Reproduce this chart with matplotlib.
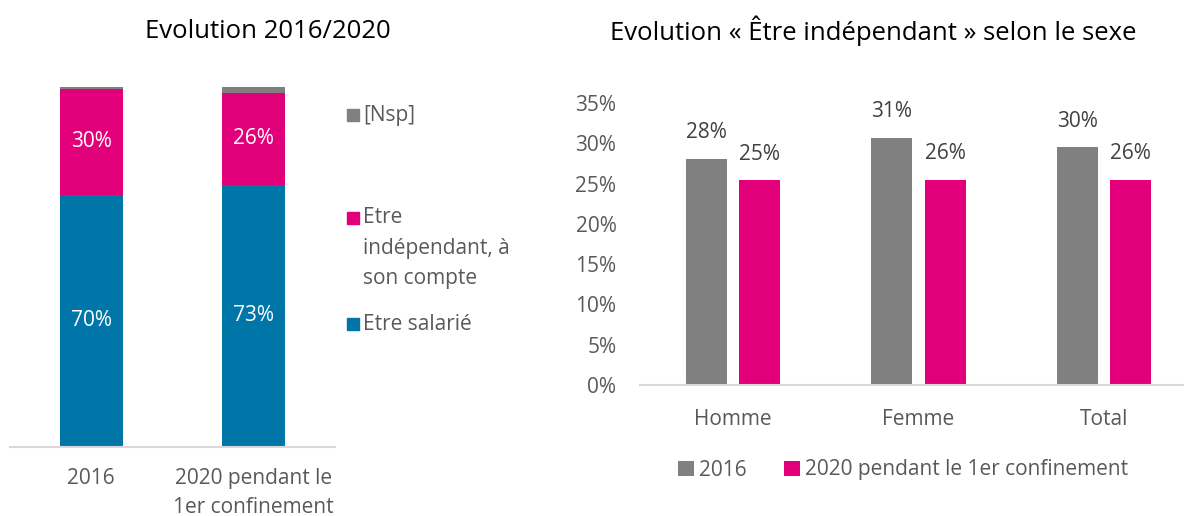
import matplotlib.pyplot as plt
import numpy as np

plt.rcParams['font.family'] = ['Open Sans', 'DejaVu Sans']

# left chart data (stacked, in %)
years = ["2016", "2020 pendant le\n1er confinement"]
salarie = [70.1, 72.9]
independant = [29.3, 25.5]
nsp = [0.6, 1.6]
lab_salarie = ["70%", "73%"]
lab_indep = ["30%", "26%"]

# right chart data (in %)
sexes = ["Homme", "Femme", "Total"]
v2016 = [28.1, 30.7, 29.5]
v2020 = [25.4, 25.5, 25.5]
lab2016 = ["28%", "31%", "30%"]
lab2020 = ["25%", "26%", "26%"]

BLUE = "#0076A8"
PINK = "#E2007A"
GREY = "#808080"
TXT = "#595959"
FS = 15
W, H = 1184, 516

fig = plt.figure(figsize=(W / 100, H / 100), dpi=100)

def px_axes(x0, x1, ytop, ybot):
    return fig.add_axes([x0 / W, (H - ybot) / H, (x1 - x0) / W, (ybot - ytop) / H])

# ---- left: stacked bars
ax1 = px_axes(10, 335, 87, 447)
x = np.arange(len(years))
bw = 0.39
ax1.bar(x, salarie, bw, color=BLUE)
ax1.bar(x, independant, bw, bottom=salarie, color=PINK)
bot = np.array(salarie) + np.array(independant)
ax1.bar(x, nsp, bw, bottom=bot, color=GREY)
for i in range(len(years)):
    ax1.text(x[i], salarie[i] / 2, lab_salarie[i], ha="center", va="center",
             color="white", fontsize=FS)
    ax1.text(x[i], salarie[i] + independant[i] / 2, lab_indep[i], ha="center",
             va="center", color="white", fontsize=FS)
ax1.set_xlim(-0.5, 1.5)
ax1.set_ylim(0, 100)
ax1.set_yticks([])
ax1.set_xticks(x)
ax1.set_xticklabels(years, fontsize=FS, color=TXT, linespacing=1.5, va="top")
ax1.tick_params(axis="x", length=0, pad=15)
for s in ["top", "right", "left"]:
    ax1.spines[s].set_visible(False)
ax1.spines["bottom"].set_color("#D9D9D9")
ax1.spines["bottom"].set_linewidth(1.5)

# legend for left chart, placed by hand (Excel-like spacing)
leg_items = [("[Nsp]", GREY, 115), ("Etre\nindépendant, à\nson compte", PINK, 218),
             ("Etre salarié", BLUE, 324)]
for txt, col, yy in leg_items:
    fig.patches.append(plt.Rectangle((347 / W, (H - yy - 6) / H), 12 / W, 12 / H,
                                     transform=fig.transFigure, color=col))
    if "\n" in txt:
        fig.text(363 / W, (H - yy + 11) / H, txt, fontsize=FS, color=TXT, va="top",
                 linespacing=1.6)
    else:
        fig.text(363 / W, (H - yy) / H, txt, fontsize=FS, color=TXT, va="center")

fig.text(268 / W, (H - 31) / H, "Evolution 2016/2020", ha="center", va="center",
         fontsize=18.5, color="black")

# ---- right: grouped bars
ax2 = px_axes(640, 1184, 103, 385)
x2 = np.arange(len(sexes))
bw2 = 0.221
off = 0.143
b1 = ax2.bar(x2 - off, v2016, bw2, color=GREY, label="2016")
b2 = ax2.bar(x2 + off, v2020, bw2, color=PINK, label="2020 pendant le 1er confinement")
for i in range(len(sexes)):
    ax2.text(x2[i] - off, v2016[i] + 3.2, lab2016[i], ha="center", va="center",
             color="#404040", fontsize=FS)
    ax2.text(x2[i] + off, v2020[i] + 3.2, lab2020[i], ha="center", va="center",
             color="#404040", fontsize=FS)
ax2.set_xlim(-0.5, 2.5 - 13 / 185.5)
ax2.set_ylim(0, 35)
ax2.set_yticks(np.arange(0, 36, 5))
ax2.set_yticklabels([f"{v}%" for v in range(0, 36, 5)], fontsize=FS, color=TXT)
ax2.set_xticks(x2)
ax2.set_xticklabels(sexes, fontsize=FS, color=TXT)
ax2.tick_params(axis="y", length=0, pad=17)
ax2.tick_params(axis="x", length=0, pad=17)
for s in ["top", "right", "left"]:
    ax2.spines[s].set_visible(False)
ax2.spines["bottom"].set_color("#D9D9D9")
ax2.spines["bottom"].set_linewidth(1.5)
ax2.legend(handles=[b1, b2], loc="center left", bbox_to_anchor=((668 - 640) / 544, (385 - 470) / 282),
           ncol=2, frameon=False, fontsize=FS, labelcolor=TXT, handlelength=0.75,
           handleheight=0.75, handletextpad=0.25, columnspacing=1.8, borderpad=0)

fig.text(873 / W, (H - 31) / H, "Evolution « Être indépendant » selon le sexe",
         ha="center", va="center", fontsize=18.5, color="black")

fig.savefig("out.png", dpi=100)
